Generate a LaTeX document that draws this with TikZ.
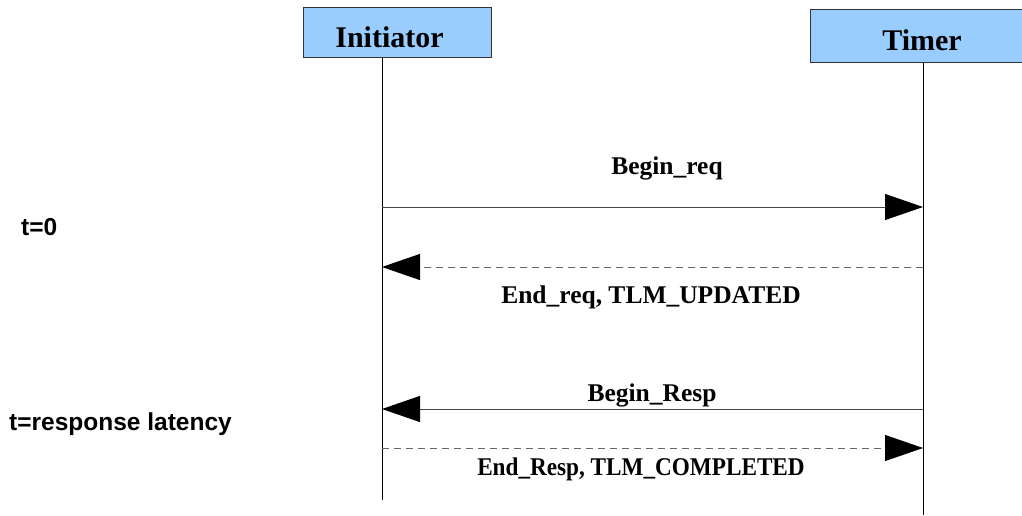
\documentclass[tikz,border=0pt]{standalone}
\usepackage{fontspec}
\setmainfont{Liberation Serif}
\setsansfont{Liberation Sans}
\newfontfamily\narrowserif[FakeStretch=0.91]{Liberation Serif}
\usetikzlibrary{arrows.meta}
\definecolor{headfill}{HTML}{99CCFF}
\definecolor{headline}{HTML}{333333}
\definecolor{msgline}{HTML}{444444}
\definecolor{dashline}{HTML}{666666}
\tikzset{
  actor/.style={draw=headline, fill=headfill, line width=1pt, inner sep=0pt},
  actorname/.style={font=\fontsize{30}{32}\selectfont\bfseries, inner sep=0pt},
  lifeline/.style={draw=black, line width=1pt},
  msg/.style={draw=msgline, line width=1pt,
    -{Triangle[length=38pt,width=26pt,color=black,fill=black]}},
  reply/.style={msg, draw=dashline, dash pattern=on 7pt off 5pt},
  msglabel/.style={font=\fontsize{25.5}{27}\selectfont\bfseries, inner sep=0pt},
  narrowlabel/.style={font=\narrowserif\fontsize{25.5}{27}\selectfont\bfseries, inner sep=0pt},
  timelabel/.style={font=\sffamily\bfseries\fontsize{24.5}{26}\selectfont, inner sep=0pt, anchor=west}
}
\begin{document}
\begin{tikzpicture}[x=1pt, y=-1pt]
  \useasboundingbox (0,0) rectangle (1022,516);

  % participants
  \node[actor, minimum width=188pt, minimum height=50pt] (init) at (397,33) {};
  \node[actorname] (initname) at (389.5,37) {Initiator};
  \node[actor, minimum width=216pt, minimum height=53pt] (timer) at (918,36.5) {};
  \node[actorname] (timername) at (922,40) {Timer};

  % lifeline end points
  \coordinate (itop) at (382,58);
  \coordinate (ibot) at (382,500);
  \coordinate (ttop) at (923,63);
  \coordinate (tbot) at (923,515);
  \draw[lifeline] (itop) -- (ibot);
  \draw[lifeline] (ttop) -- (tbot);

  % message anchors on the lifelines
  \coordinate (i1) at (382,207);  \coordinate (t1) at (923,207);
  \coordinate (i2) at (382,267);  \coordinate (t2) at (923,267);
  \coordinate (i3) at (382,409);  \coordinate (t3) at (923,409);
  \coordinate (i4) at (382,448);  \coordinate (t4) at (923,448);

  % messages
  \draw[msg]   (i1) -- (t1);
  \draw[reply] (t2) -- (i2);
  \draw[msg]   (t3) -- (i3);
  \draw[reply] (i4) -- (t4);

  % message labels
  \node[msglabel] (l1) at (667,168) {Begin\_req};
  \node[msglabel] (l2) at (651,297) {End\_req, TLM\_UPDATED};
  \node[msglabel] (l3) at (652,395) {Begin\_Resp};
  \node[narrowlabel] (l4) at (641,469) {End\_Resp, TLM\_COMPLETED};

  % time markers
  \node[timelabel] (t0) at (21,227) {t=0};
  \node[timelabel] (tl) at (9,424) {t=response latency};
\end{tikzpicture}
\end{document}
